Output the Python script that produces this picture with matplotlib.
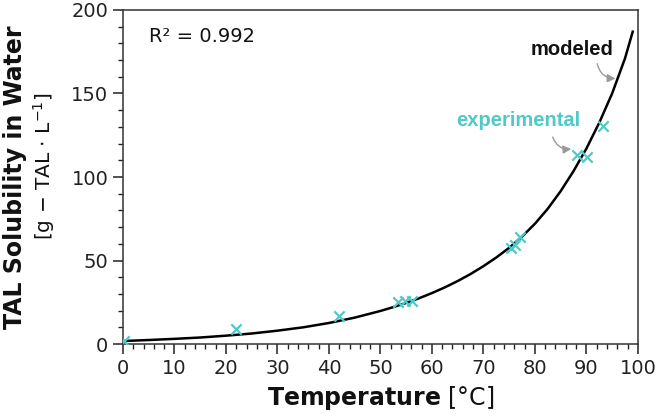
import matplotlib
matplotlib.use("Agg")
import matplotlib.pyplot as plt
from matplotlib.ticker import MultipleLocator

# experimental points (temperature in C, solubility in g TAL / L)
exp_temp = [0.3, 22, 42, 53.4, 54.8, 56.1, 75.3, 76.1, 77.1, 88.2, 90.1, 93.2]
exp_sol = [2, 9, 16.5, 25, 25.5, 26, 57.5, 59.5, 64, 113, 112, 130.5]

# modeled curve
model_temp = [0, 5, 10, 15, 20, 25, 30, 35, 40, 45, 50, 52.5, 55, 57.5, 60,
              62.5, 65, 67.5, 70, 72.5, 75, 77.5, 80, 82.5, 85, 87.5, 90,
              92.5, 95, 97.5, 99]
model_sol = [1.8, 2.4, 3.1, 3.9, 5.0, 6.3, 8.0, 10.0, 12.6, 15.8, 19.8, 22.1,
             24.6, 27.4, 30.5, 33.9, 37.7, 41.9, 46.6, 51.8, 57.6, 64.3, 72,
             81, 91.5, 103.5, 117, 132.5, 150, 171, 187]

teal = '#4fc9c9'

fig = plt.figure(figsize=(6.61, 4.16), dpi=100)
ax = fig.add_axes([0.186, 0.173, 0.779, 0.803])

ax.plot(model_temp, model_sol, color='black', lw=1.8, zorder=2)
ax.scatter(exp_temp, exp_sol, marker='x', color=teal, s=55, linewidths=1.6, zorder=3)

ax.set_xlim(0, 100)
ax.set_ylim(0, 200)
ax.xaxis.set_major_locator(MultipleLocator(10))
ax.xaxis.set_minor_locator(MultipleLocator(2))
ax.yaxis.set_major_locator(MultipleLocator(50))
ax.yaxis.set_minor_locator(MultipleLocator(10))
ax.tick_params(which='major', length=7, width=1.1, labelsize=14, colors='#222222')
ax.tick_params(which='minor', length=3.5, width=1.0, colors='#222222')
for s in ax.spines.values():
    s.set_linewidth(1.1)
    s.set_color('#333333')

# x label: bold word + regular unit
ax.text(0.5, -0.12, r'$\mathbf{Temperature}$ [°C]', transform=ax.transAxes,
        ha='center', va='top', fontsize=17, color='#111111')

# y label: two lines
fig.text(0.023, 0.575, 'TAL Solubility in Water', rotation=90, ha='center',
         va='center', fontsize=17, fontweight='bold', color='#111111')
fig.text(0.066, 0.6, r'[g $-$ TAL $\cdot$ L$^{-1}$]', rotation=90, ha='center',
         va='center', fontsize=14.5, color='#111111')

ax.text(5, 184, 'R² = 0.992', fontsize=14, va='center', ha='left', color='#111111')

ax.text(87.2, 176.5, 'modeled', fontsize=14.5, fontweight='bold',
        family='Liberation Sans', ha='center', va='center', color='#111111')
ax.annotate('', xy=(96.2, 159), xytext=(92, 169.5),
            arrowprops=dict(arrowstyle='-|>', color='#999999', lw=1.0,
                            connectionstyle='arc3,rad=0.45', mutation_scale=12))

ax.text(76.7, 134, 'experimental', fontsize=14.5, fontweight='bold',
        family='Liberation Sans', ha='center', va='center', color=teal)
ax.annotate('', xy=(87.6, 117), xytext=(83.3, 125.5),
            arrowprops=dict(arrowstyle='-|>', color='#999999', lw=1.0,
                            connectionstyle='arc3,rad=0.45', mutation_scale=12))

fig.savefig('out.png', dpi=100)
